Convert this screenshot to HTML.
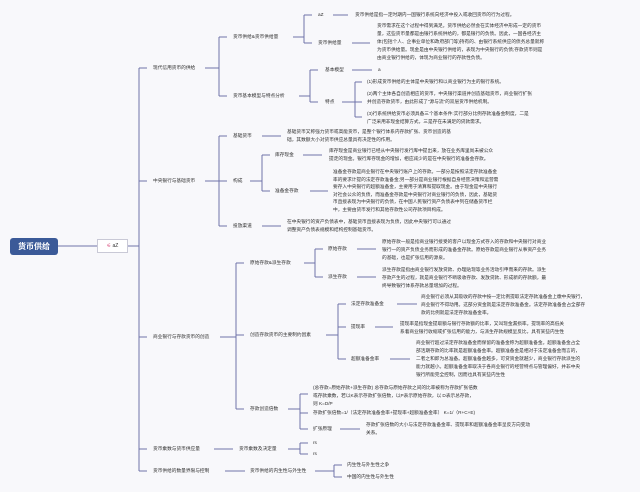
<!DOCTYPE html>
<html><head><meta charset="utf-8"><style>
html,body{margin:0;padding:0}
body{width:640px;height:492px;background:#f8f8fb;position:relative;overflow:hidden;font-family:"Liberation Sans","Noto Sans CJK SC",sans-serif;color:#2e2e2e}
.t{position:absolute;font-size:4.7px;line-height:6px;white-space:nowrap}
.p{position:absolute;font-size:4.7px;line-height:8px;white-space:nowrap}
svg{position:absolute;left:0;top:0}
</style></head><body>
<svg width="640" height="492" fill="none" stroke="#6f73aa" stroke-width="1">
<path d="M58 246H97M127 246H139"/>
<path d="M139 68V471M139 68H147M139 181H147M139 337H147M139 449H147M139 471H147"/>
<path d="M205 68H219M219 37V96M219 37H227M219 96H227"/>
<path d="M205 181H219M219 136V226M219 136H227M219 181H227M219 226H227"/>
<path d="M220 337H236M236 263V409M236 263H244M236 335H244M236 409H244"/>
<path d="M214 449H233"/>
<path d="M225 471H245"/>
<path d="M293 37H304M304 15V43M304 15H312M304 43H312"/>
<path d="M333 15H348M352 43H370"/>
<path d="M299 96H310M310 70V102M310 70H318M310 102H318"/>
<path d="M352 70H372M342 102H355M355 82V117M355 82H362M355 102H362M355 117H362"/>
<path d="M262 136H281"/>
<path d="M250 181H262M262 155V191M262 155H270M262 191H270"/>
<path d="M303 155H322M310 191H328"/>
<path d="M262 226H281"/>
<path d="M304 263H315M315 249V277M315 249H323M315 277H323"/>
<path d="M357 249H376M357 277H376"/>
<path d="M326 335H338M338 304V359M338 304H346M338 327H346M338 359H346"/>
<path d="M397 304H417M375 327H393M390 359H410"/>
<path d="M288 409H300M300 394V429M300 394H308M300 413H308M300 429H308"/>
<path d="M340 429H360"/>
<path d="M288 449H300M300 443V454M300 443H308M300 454H308"/>
<path d="M315 471H334M334 465V477M334 465H342M334 477H342"/>
</svg>
<div style="position:absolute;left:10px;top:238px;width:48px;height:17px;background:#3b5a98;border-radius:3px;color:#fff;font-weight:bold;font-size:8px;line-height:17px;text-align:center;font-family:'Liberation Sans','Noto Sans CJK SC',sans-serif">货币供给</div>
<div style="position:absolute;left:97px;top:239px;width:29px;height:12px;background:#fff;border:1px solid #c9c9d6;font-size:5px;line-height:12px;text-align:center"><span style="color:#d4366c">⚟</span> aZ</div>

<div class="t" style="left:153px;top:65px">现代信用货币的供给</div>
<div class="t" style="left:153px;top:178px">中央银行与基础货币</div>
<div class="t" style="left:153px;top:334px">商业银行与存款货币的创造</div>
<div class="t" style="left:153px;top:446px">货币乘数与货币供应量</div>
<div class="t" style="left:153px;top:468px">货币供给的数量界限与控制</div>

<div class="t" style="left:233px;top:34px">货币供给&amp;货币供给量</div>
<div class="t" style="left:318px;top:12px">aZ</div>
<div class="t" style="left:355px;top:12px">货币供给是指一定时期内一国银行系统向经济中投入或收回货币的行为过程。</div>
<div class="t" style="left:318px;top:40px">货币供给量</div>
<div class="p" style="left:377px;top:22px">货币需求在这个过程中得到满足。货币供给必然会在实体经济中形成一定的货币<br>量，这些货币量都是由银行系统供给的，都是银行的负债。因此，一国各经济主<br>体(包括个人、企事业单位和政府部门等)持有的、由银行系统供应的债务总量就称<br>为货币供给量。现金是由中央银行供给的，表现为中央银行的负债;存款货币则是<br>由商业银行供给的，体现为商业银行的存款性负债。</div>

<div class="t" style="left:233px;top:93px">货币基本模型与特点分析</div>
<div class="t" style="left:325px;top:67px">基本模型</div>
<div class="t" style="left:378px;top:67px">a</div>
<div class="t" style="left:325px;top:99px">特点</div>
<div class="t" style="left:367px;top:79px">(1)形成货币供给的主体是中央银行和以商业银行为主的银行系统。</div>
<div class="p" style="left:367px;top:90px">(2)两个主体各自创造相应的货币，中央银行渠道并创造基础货币，商业银行扩张<br>并创造存款货币，由此形成了“源与流”的双层货币供给机制。</div>
<div class="p" style="left:367px;top:110px">(3)行系统供给货币必须具备三个基本条件:实行部分比例存款准备金制度，二是<br>广泛采用非现金结算方式，三是存在未满足的贷款需求。</div>

<div class="t" style="left:233px;top:133px">基础货币</div>
<div class="p" style="left:287px;top:128px">基础货币又称强力货币或高能货币，是整个银行体系内存款扩张、货币创造的基<br>础，其数额大小对货币供应总量具有决定性的作用。</div>
<div class="t" style="left:233px;top:178px">构成</div>
<div class="t" style="left:275px;top:152px">库存现金</div>
<div class="p" style="left:329px;top:147px">库存现金是商业银行已经从中央银行发行库中提出来，放在业务库里尚未被公众<br>提走的现金。银行库存现金的增加，相应减少的是在中央银行的准备金存款。</div>
<div class="t" style="left:275px;top:188px">准备金存款</div>
<div class="p" style="left:333px;top:168px;line-height:7.6px">准备金存款是商业银行在中央银行账户上的存款。一部分是按照法定存款准备金<br>率的要求计提的法定存款准备金;另一部分是商业银行根据自身经营决策和运营需<br>要存入中央银行的超额准备金，主要用于清算和提取现金。由于现金是中央银行<br>对社会公众的负债，而准备金存款是中央银行对商业银行的负债，因此，基础货<br>币直接表现为中央银行的负债，在中国人民银行资产负债表中列在储备货币栏<br>中，主要由货币发行和其他存款性公司存款项目构成。</div>
<div class="t" style="left:233px;top:223px">投放渠道</div>
<div class="p" style="left:287px;top:218px">在中央银行的资产负债表中，基础货币直接表现为负债，因此中央银行可以通过<br>调整资产负债表规模和结构控制基础货币。</div>

<div class="t" style="left:250px;top:260px">原始存款&amp;派生存款</div>
<div class="t" style="left:328px;top:246px">原始存款</div>
<div class="p" style="left:382px;top:238px">原始存款一般是指商业银行接受的客户以现金方式存入的存款和中央银行对商业<br>银行一的资产负债业务而形成的准备金存款。原始存款是商业银行从事资产业务<br>的基础，也是扩张信用的源泉。</div>
<div class="t" style="left:328px;top:274px">派生存款</div>
<div class="p" style="left:382px;top:266px">派生存款是指由商业银行发放贷款、办理贴现等业务活动引申而来的存款。派生<br>存款产生的过程，就是商业银行不断吸收存款、发放贷款、形成新的存款额，最<br>终导致银行体系存款总量增加的过程。</div>

<div class="t" style="left:250px;top:332px">创造存款货币的主要制约因素</div>
<div class="t" style="left:351px;top:301px">法定存款准备金</div>
<div class="p" style="left:421px;top:293px">商业银行必须从其吸收的存款中按一定比例提取法定存款准备金上缴中央银行，<br>商业银行不得动用。这部分资金就是法定存款准备金。法定存款准备金占全部存<br>款的比例就是法定存款准备金率。</div>
<div class="t" style="left:351px;top:324px">提现率</div>
<div class="p" style="left:400px;top:320px">提现率是指现金提取额与银行存款额的比率，又叫现金漏损率。提现率的高低关<br>系着商业银行收缩或扩张信用的能力，与派生存款规模呈反比，具有某些内生性</div>
<div class="t" style="left:351px;top:356px">超额准备金率</div>
<div class="p" style="left:416px;top:339px">商业银行超过法定存款准备金而保留的准备金称为超额准备金。超额准备金占全<br>部活期存款的比率就是超额准备金率。超额准备金是相对于法定准备金而言的，<br>二者之和即为总准备。超额准备金越多，可贷资金就越少，商业银行存款派生的<br>能力就越小。超额准备金率取决于各商业银行的经营特点与管理偏好，并非中央<br>银行所能完全控制，因而也具有某些内生性</div>

<div class="t" style="left:250px;top:406px">存款创造倍数</div>
<div class="p" style="left:313px;top:384px">(总存款=原始存款+派生存款) 总存款与原始存款之间的比率被称为存款扩张倍数<br>或存款乘数，若以K表示存款扩张倍数，以P表示原始存款，以 D表示总存款，<br>则 K=D/P</div>
<div class="t" style="left:313px;top:410px">存款扩张倍数=1/（法定存款准备金率+提现率+超额准备金率） K=1/（R+C+E)</div>
<div class="t" style="left:313px;top:426px">扩张原理</div>
<div class="p" style="left:366px;top:421px">存款扩张倍数的大小与法定存款准备金率、提现率和超额准备金率呈反方向变动<br>关系。</div>

<div class="t" style="left:239px;top:446px">货币乘数及决定量</div>
<div class="t" style="left:313px;top:440px">rs</div>
<div class="t" style="left:313px;top:451px">rs</div>
<div class="t" style="left:250px;top:468px">货币供给的内生性与外生性</div>
<div class="t" style="left:347px;top:462px">内生性与外生性之争</div>
<div class="t" style="left:347px;top:474px">中国的内生性与外生性</div>
</body></html>
